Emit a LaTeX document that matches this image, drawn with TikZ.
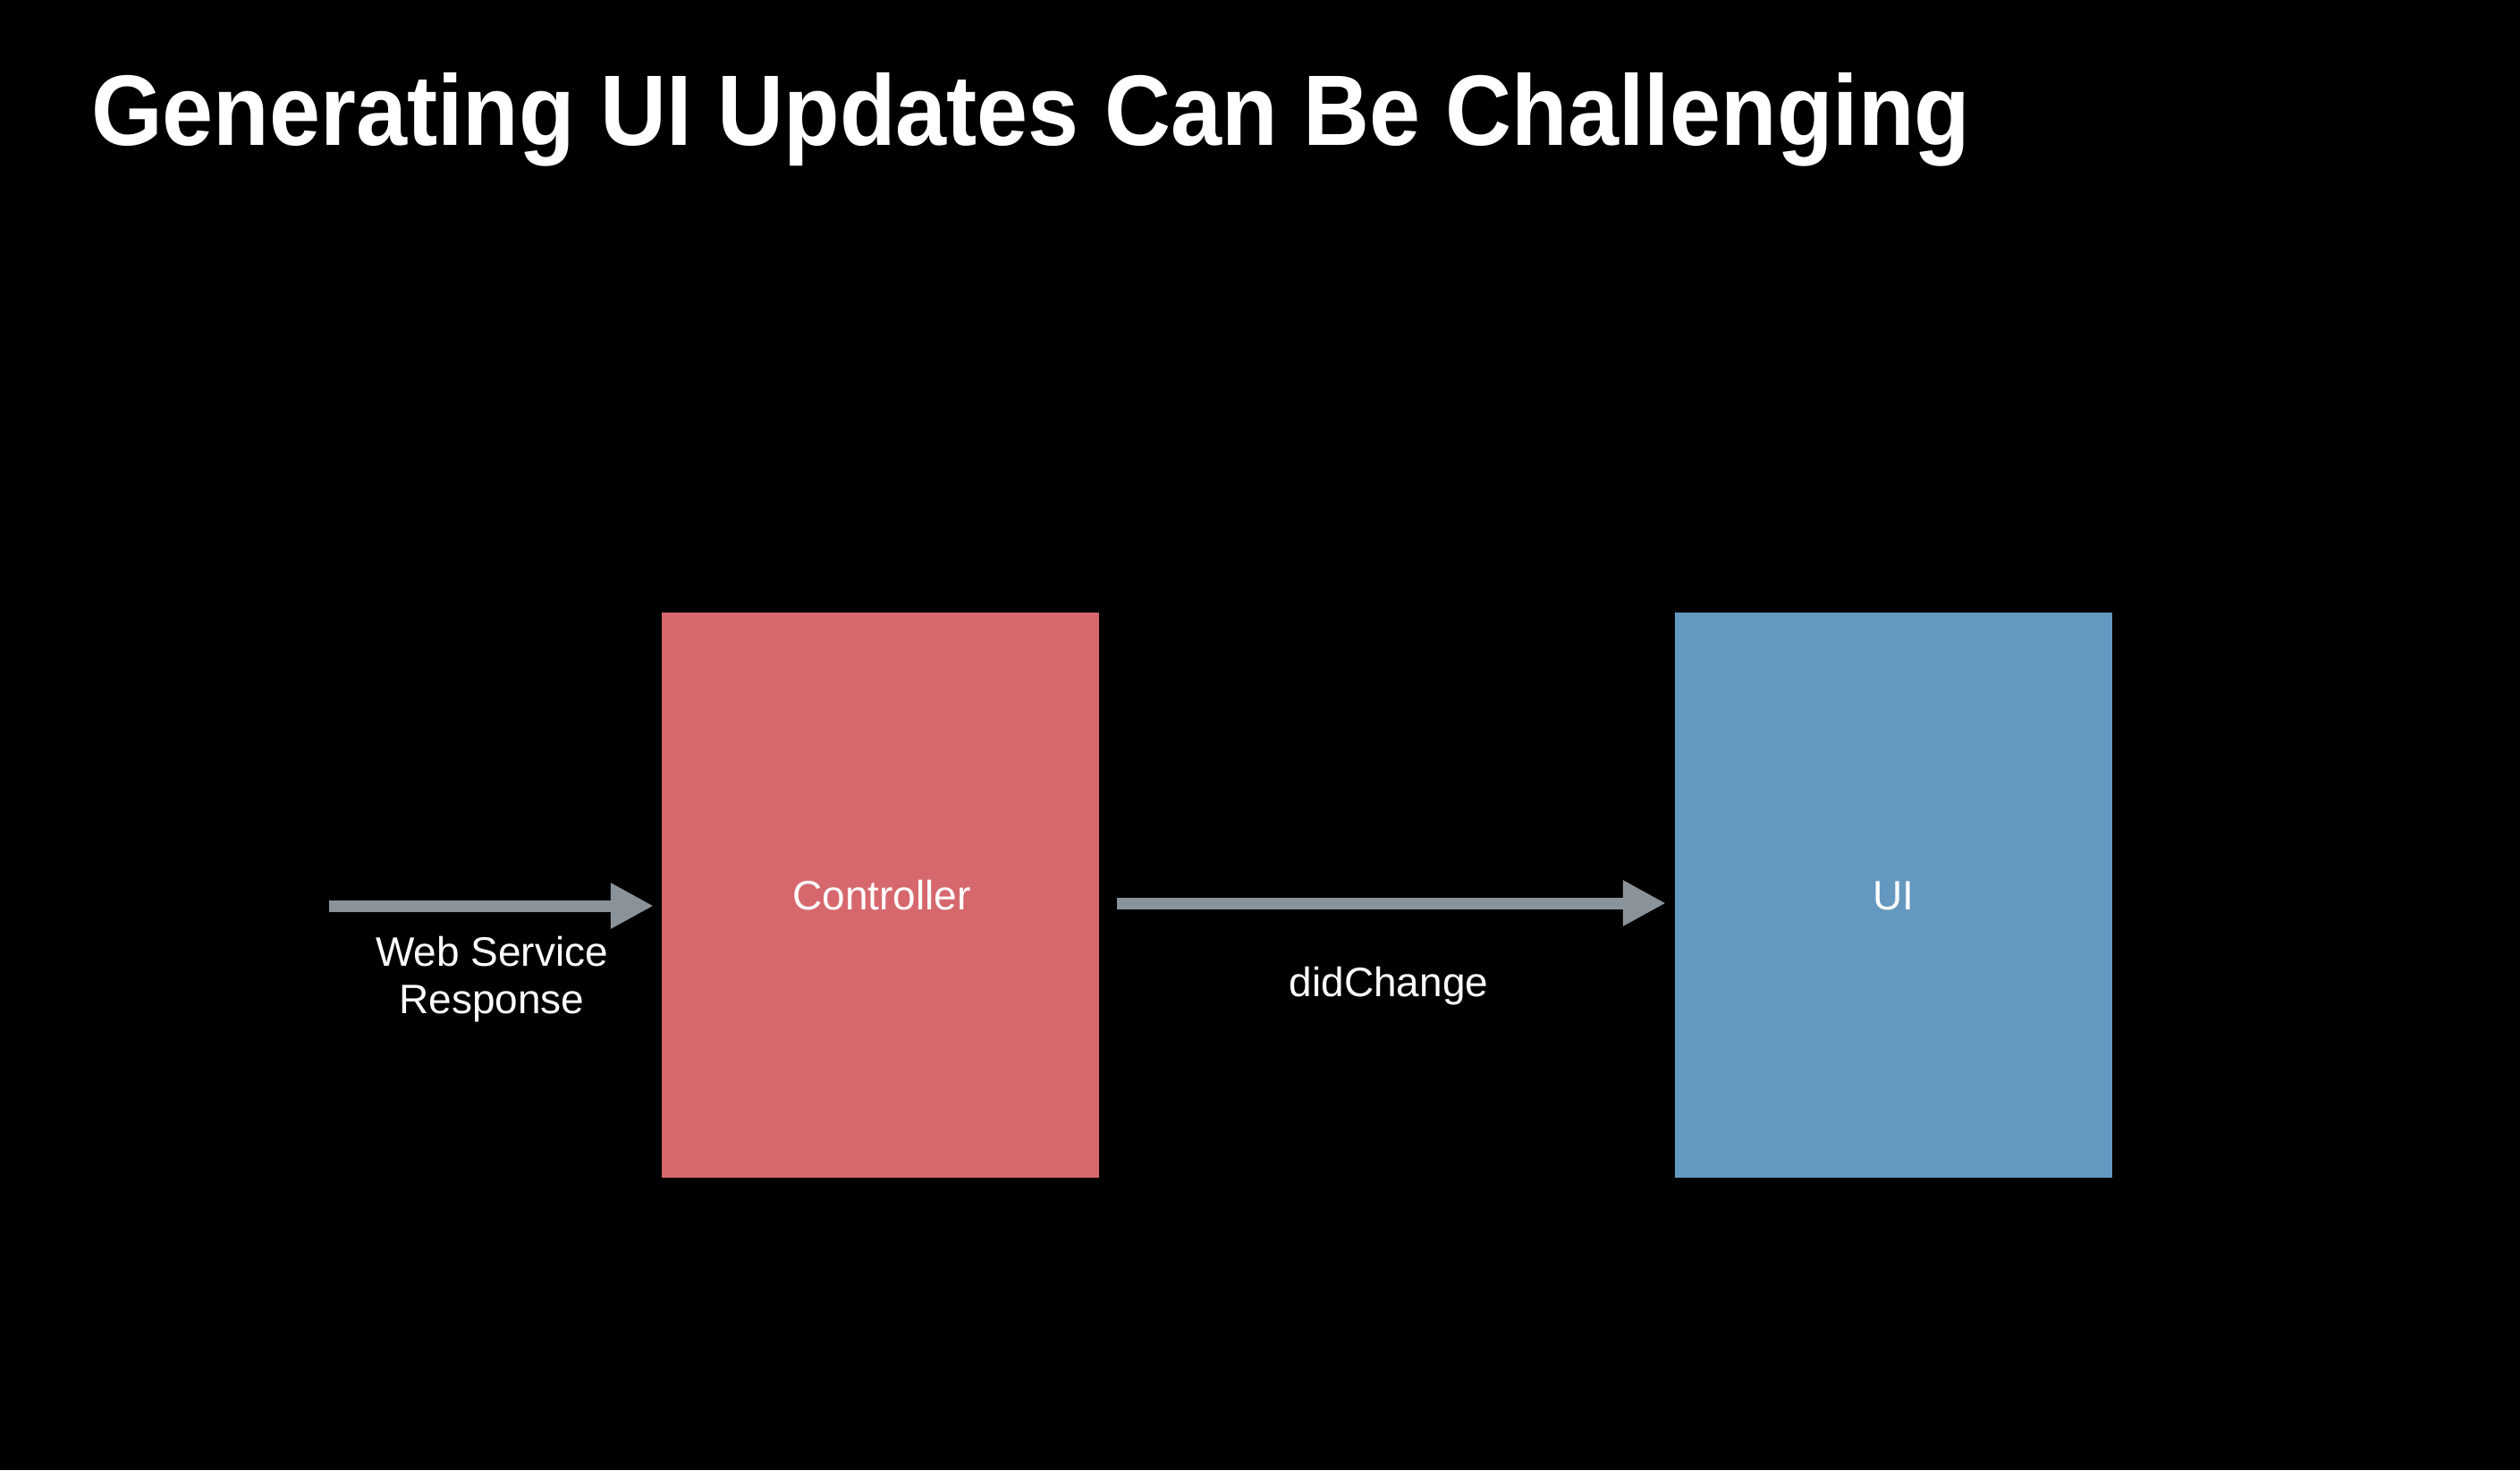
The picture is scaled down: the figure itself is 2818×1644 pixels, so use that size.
\documentclass[tikz,border=0pt]{standalone}
\usepackage{fontspec}
\usepackage{graphicx}
\setmainfont{Liberation Sans}
\usetikzlibrary{arrows.meta}
\definecolor{ctrlred}{HTML}{D6686D}
\definecolor{uiblue}{HTML}{6598BF}
\definecolor{arrgray}{HTML}{8A939A}
\tikzset{
  x=1pt, y=-1pt,
  box/.style={fill=#1, draw=none, minimum width=489pt, minimum height=632pt, inner sep=0pt},
  lbl/.style={text=white, font=\fontsize{46}{53}\selectfont, inner sep=0pt},
  arr/.style={draw=arrgray, line width=13pt, -{Triangle[length=48pt,width=48pt]}},
}
\begin{document}
\begin{tikzpicture}
\fill[black] (0,0) rectangle (2818,1644);
\useasboundingbox (0,0) rectangle (2818,1644);
\node[anchor=base west, text=white, inner sep=0pt, font=\fontsize{112}{130}\selectfont\bfseries] (title) at (102,162) {\scalebox{0.915}[1]{Generating UI Updates Can Be Challenging}};
\node[box=ctrlred] (ctrl) at (984.5,1001) {};
\node[box=uiblue] (ui) at (2117.5,1001) {};
\node[lbl, anchor=base] (ctrltxt) at (986,1017) {Controller};
\node[lbl, anchor=base] (uitxt) at (2117,1017) {UI};
\node[lbl, anchor=base, align=center] (wsr) at (550,1133) {Web Service\\Response};
\node[lbl, anchor=base] (dc) at (1553,1114) {didChange};
\coordinate (src) at (368,1013);
\draw[arr, shorten >=9pt] (src) -- (src -| ctrl.west);
\draw[arr] ([xshift=20pt,yshift=-9pt]ctrl.east) -- ([xshift=-10pt,yshift=-9pt]ui.west);
\end{tikzpicture}
\end{document}
